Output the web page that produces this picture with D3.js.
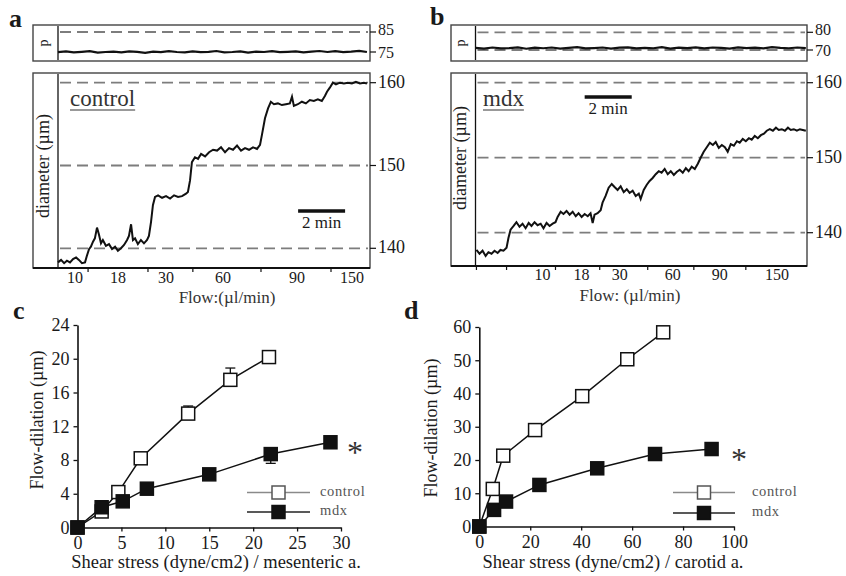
<!DOCTYPE html>
<html><head><meta charset="utf-8">
<script src="https://cdn.jsdelivr.net/npm/d3@7/dist/d3.min.js"></script>
<style>
body{margin:0;background:#fff}
text{font-family:"Liberation Serif","Times New Roman",serif;fill:#1a1a1a}
</style>
</head><body>
<svg id="chart" width="846" height="576"></svg>
<script>
// ---------------- DATA ----------------
// Panels a / b : flow steps (µl/min)
const flowLabels = ["10","18","30","60","90","150"];
const aFlowLabelTimes = [0.72,2.55,4.6,7.02,10.17,12.51];   // min
const aFlowTickTimes  = [1.28,3.83,5.74,8.64,11.62];
const bFlowLabelTimes = [2.85,4.51,6.13,8.38,10.38,12.81];
const bFlowTickTimes  = [0.04,1.32,3.40,5.28,7.32,9.28,11.49];

// panel a pressure trace (p)
const aPressTicks = [85,75];
const aPressRef = [85];
const aPressTime = [0,0.34,0.67,1.01,1.35,1.69,2.02,2.36,2.7,3.03,3.37,3.71,4.05,4.38,4.72,5.06,5.4,5.73,6.07,6.41,6.74,7.08,7.42,7.76,8.09,8.43,8.77,9.11,9.44,9.78,10.12,10.45,10.79,11.13,11.47,11.8,12.14,12.48,12.82,13.15];
const aPressValue = [74.9,75.3,74.8,75.1,75.4,74.7,75.0,75.2,74.8,75.3,75.1,74.6,75.2,74.9,75.4,75.0,74.8,75.3,74.9,75.1,75.5,74.8,75.0,75.3,74.7,75.2,75.0,75.4,74.9,75.1,75.3,74.8,75.2,75.5,75.0,75.4,74.9,75.2,75.6,75.0];

// panel a diameter trace (µm)
const aDiamTicks = [160,150,140];
const aDiamTime = [0,0.13,0.26,0.38,0.51,0.64,0.77,0.89,1.02,1.15,1.23,1.32,1.40,1.49,1.57,1.66,1.74,1.83,1.91,2.04,2.17,2.30,2.43,2.55,2.68,2.81,2.94,3.02,3.11,3.19,3.28,3.40,3.53,3.66,3.79,3.87,3.96,4.04,4.13,4.26,4.43,4.60,4.77,4.94,5.11,5.28,5.45,5.53,5.62,5.70,5.83,5.96,6.09,6.26,6.43,6.60,6.77,6.94,7.11,7.28,7.45,7.62,7.79,7.96,8.13,8.30,8.47,8.60,8.68,8.81,8.94,9.06,9.19,9.36,9.53,9.70,9.87,9.96,10.04,10.21,10.38,10.55,10.72,10.89,11.06,11.23,11.36,11.45,11.57,11.70,11.83,12.00,12.17,12.34,12.51,12.68,12.85,13.02,13.15];
const aDiamValue = [138.3,138.6,138.2,138.5,138.3,138.7,138.9,138.6,138.2,138.3,139.1,139.9,140.2,140.8,141.2,142.5,141.7,140.6,141.0,140.3,140.5,139.9,140.2,139.7,140.0,140.4,141.0,141.5,142.9,141.0,141.2,140.5,141.0,140.6,141.0,141.5,143.2,145.2,146.2,146.4,146.1,146.3,146.0,146.4,146.2,146.3,146.6,146.8,148.2,150.4,151.0,150.8,151.4,151.1,151.6,151.9,151.8,152.2,151.6,152.1,151.9,152.4,151.8,152.1,151.9,152.2,152.0,152.5,153.7,155.7,156.9,157.7,157.4,157.5,157.3,157.4,157.5,158.3,157.2,157.4,157.7,157.5,157.9,157.8,158.0,157.8,158.4,158.9,159.4,160.0,159.8,160.0,159.9,160.0,159.9,160.1,159.9,160.0,159.9];

// panel b pressure trace (p)
const bPressTicks = [80,70];
const bPressRef = [80,70];
const bPressTime = [0,0.36,0.72,1.08,1.44,1.8,2.16,2.52,2.88,3.24,3.6,3.96,4.32,4.68,5.04,5.4,5.76,6.12,6.48,6.84,7.2,7.56,7.92,8.28,8.64,9.0,9.36,9.72,10.08,10.44,10.8,11.16,11.52,11.88,12.24,12.6,12.96,13.32,13.68,14.04];
const bPressValue = [71.2,70.8,71.4,70.9,71.1,71.5,70.7,71.3,71.0,71.4,70.8,71.2,71.6,70.9,71.1,71.4,70.8,71.3,71.5,70.9,71.2,71.0,71.6,70.8,71.3,71.1,71.5,70.9,71.4,71.2,70.8,71.5,71.1,71.3,70.9,71.6,71.2,71.0,71.4,71.1];

// panel b diameter trace (µm)
const bDiamTicks = [160,150,140];
const bDiamTime = [0.04,0.17,0.30,0.43,0.55,0.68,0.81,0.94,1.06,1.19,1.32,1.40,1.49,1.62,1.74,1.87,2.00,2.13,2.26,2.38,2.51,2.64,2.77,2.89,3.02,3.15,3.28,3.40,3.49,3.62,3.74,3.87,4.00,4.13,4.26,4.38,4.51,4.64,4.77,4.89,4.98,5.06,5.19,5.32,5.40,5.53,5.66,5.79,5.91,6.04,6.17,6.30,6.43,6.55,6.68,6.81,6.94,7.02,7.15,7.28,7.40,7.53,7.66,7.79,7.91,8.04,8.17,8.30,8.43,8.55,8.68,8.81,8.94,9.06,9.19,9.32,9.45,9.57,9.70,9.83,9.96,10.09,10.21,10.34,10.47,10.60,10.72,10.85,10.98,11.11,11.23,11.36,11.49,11.62,11.74,11.87,12.00,12.13,12.26,12.38,12.51,12.64,12.77,12.89,13.02,13.15,13.28,13.40,13.53,13.66,13.79,13.91,14.04];
const bDiamValue = [137.7,137.2,137.6,136.9,137.4,137.2,137.6,137.3,137.7,137.6,138.0,139.3,140.4,140.9,141.4,140.8,141.2,140.6,141.3,140.9,141.4,141.0,141.2,140.6,141.3,140.9,141.2,141.4,142.1,142.8,142.5,142.9,142.4,142.8,142.2,142.6,142.1,142.5,142.2,142.6,141.3,142.4,142.6,143.0,144.0,144.9,146.0,146.5,146.1,145.7,146.2,145.4,145.8,145.3,145.6,144.9,145.2,144.5,145.7,146.4,146.9,147.3,147.8,148.2,148.0,148.5,147.8,148.2,147.7,148.1,148.4,148.0,148.6,148.2,148.8,148.5,149.2,150.0,150.8,151.4,152.0,151.7,152.1,151.3,151.7,151.4,150.8,151.8,151.6,152.2,152.0,152.5,152.2,152.6,152.4,152.9,152.6,153.0,153.2,153.6,153.8,153.6,154.0,153.7,153.8,153.6,154.0,153.7,153.8,153.6,153.8,153.7,153.6];

// Panel c : mesenteric artery
const cXTicks = [0,5,10,15,20,25,30];
const cYTicks = [0,4,8,12,16,20,24];
const cControlShear = [0,2.75,4.65,7.2,12.6,17.4,21.8];
const cControlDil   = [0,1.9,4.2,8.2,13.5,17.5,20.2];
const cControlErr   = [0,0,0,0,0.9,1.4,0.5];
const cMdxShear = [0,2.75,5.15,7.9,15.0,22.0,28.8];
const cMdxDil   = [0,2.4,3.1,4.6,6.3,8.7,10.1];
const cMdxErr   = [0,0,0,0,0,-1.1,0];

// Panel d : carotid artery
const dXTicks = [0,20,40,60,80,100];
const dYTicks = [0,10,20,30,40,50,60];
const dControlShear = [0,5.3,9.4,21.9,40.4,58.1,72.2];
const dControlDil   = [0,11.3,21.3,29.0,39.2,50.3,58.4];
const dMdxShear = [0,5.8,10.5,23.6,46.3,69.0,91.2];
const dMdxDil   = [0,5.0,7.5,12.5,17.5,21.8,23.3];

const seriesNames = ["control","mdx"];

// ---------------- DRAWING ----------------
const svg = d3.select("#chart");
const INK = "#111";
const REF = "#7d7d7d";

function label(x, y, s, size, opts = {}) {
  const t = svg.append("text").attr("x", x).attr("y", y).text(s)
    .style("font-size", size + "px");
  if (opts.anchor) t.attr("text-anchor", opts.anchor);
  if (opts.bold) t.style("font-weight", "bold");
  if (opts.rotate) t.attr("transform", `rotate(-90,${x},${y})`);
  if (opts.mid) t.attr("dominant-baseline", "middle");
  if (opts.fill) t.style("fill", opts.fill);
  if (opts.ls) t.style("letter-spacing", opts.ls + "px");
  return t;
}

function drawTracePanel(cfg) {
  const x = d3.scaleLinear().domain(cfg.tDomain).range([cfg.innerX, cfg.right]);
  const yp = d3.scaleLinear().domain(cfg.pDomain).range(cfg.pRange);
  const yd = d3.scaleLinear().domain(cfg.dDomain).range(cfg.dRange);
  const g = svg.append("g");

  // frames
  g.append("rect").attr("x", cfg.left).attr("y", cfg.pTop)
    .attr("width", cfg.right - cfg.left).attr("height", cfg.pBottom - cfg.pTop)
    .attr("fill", "none").attr("stroke", "#444").attr("stroke-width", 1.4);
  g.append("rect").attr("x", cfg.left).attr("y", cfg.mTop)
    .attr("width", cfg.right - cfg.left).attr("height", cfg.mBottom - cfg.mTop)
    .attr("fill", "none").attr("stroke", "#444").attr("stroke-width", 1.4);
  g.append("line").attr("x1", cfg.innerX).attr("x2", cfg.innerX)
    .attr("y1", cfg.pTop + 1).attr("y2", cfg.pBottom - 1).attr("stroke", INK).attr("stroke-width", 1.3);
  g.append("line").attr("x1", cfg.innerX).attr("x2", cfg.innerX)
    .attr("y1", cfg.mTop + 1).attr("y2", cfg.mBottom).attr("stroke", INK).attr("stroke-width", 1.3);
  g.append("line").attr("x1", cfg.left).attr("x2", cfg.right)
    .attr("y1", cfg.mBottom).attr("y2", cfg.mBottom).attr("stroke", INK).attr("stroke-width", 2);

  // reference dashed lines
  cfg.pRef.forEach(v => g.append("line").attr("x1", cfg.innerX + 2).attr("x2", cfg.right - 2)
    .attr("y1", yp(v)).attr("y2", yp(v)).attr("stroke", REF).attr("stroke-width", 1.8)
    .attr("stroke-dasharray", "11,6"));
  cfg.dTicks.forEach(v => g.append("line").attr("x1", cfg.innerX + 2).attr("x2", cfg.right - 2)
    .attr("y1", yd(v)).attr("y2", yd(v)).attr("stroke", REF).attr("stroke-width", 1.8)
    .attr("stroke-dasharray", "11,6"));

  // right ticks + labels
  const rt = (v, yy, size, dy) => {
    g.append("line").attr("x1", cfg.right).attr("x2", cfg.right + 6)
      .attr("y1", yy).attr("y2", yy).attr("stroke", INK).attr("stroke-width", 1.2);
    label(cfg.right + 8, yy + dy, String(v), size, {mid: true});
  };
  cfg.pTicks.forEach((v, i) => rt(v, yp(v), 16, i === 0 ? -1 : 2));
  cfg.dTicks.forEach(v => rt(v, yd(v), 18, 1));

  // traces
  const lineP = d3.line().x(d => x(d[0])).y(d => yp(d[1]));
  const lineD = d3.line().x(d => x(d[0])).y(d => yd(d[1]));
  g.append("path").datum(d3.zip(cfg.pTime, cfg.pValue)).attr("d", lineP)
    .attr("fill", "none").attr("stroke", INK).attr("stroke-width", 2.2);
  g.append("path").datum(d3.zip(cfg.dTime, cfg.dValue)).attr("d", lineD)
    .attr("fill", "none").attr("stroke", INK).attr("stroke-width", 2);

  // flow ticks and labels
  cfg.flowTicks.forEach(t => g.append("line").attr("x1", x(t)).attr("x2", x(t))
    .attr("y1", cfg.mBottom).attr("y2", cfg.mBottom + 4).attr("stroke", INK).attr("stroke-width", 1.2));
  cfg.flowLabelTimes.forEach((t, i) => label(x(t), cfg.flowLabelY, flowLabels[i], 16, {anchor: "middle", mid: true}));
  label(cfg.flowTitleX, cfg.flowTitleY, cfg.flowTitle, 17, {anchor: "middle", mid: true, fill: "#333"});

  // left labels
  label(cfg.pLabelX, (cfg.pTop + cfg.pBottom) / 2, "p", 14, {anchor: "middle", mid: true, rotate: true});
  label(cfg.pLabelX, cfg.diamLabelY, "diameter (µm)", 18, {anchor: "middle", mid: true, rotate: true});

  // group name underlined
  const nm = label(cfg.nameX, cfg.nameY, cfg.name, 23, {fill: "#333"});
  const w = nm.node().getComputedTextLength();
  g.append("line").attr("x1", cfg.nameX).attr("x2", cfg.nameX + w)
    .attr("y1", cfg.nameY + 4).attr("y2", cfg.nameY + 4).attr("stroke", "#777").attr("stroke-width", 1.5);

  // scale bar 2 min
  g.append("line").attr("x1", x(cfg.barT)).attr("x2", x(cfg.barT + 2))
    .attr("y1", cfg.barY).attr("y2", cfg.barY).attr("stroke", INK).attr("stroke-width", 3.5);
  label((x(cfg.barT) + x(cfg.barT + 2)) / 2, cfg.barY + 17, "2 min", 17, {anchor: "middle"});
}

drawTracePanel({
  left: 33, innerX: 58, right: 370,
  pTop: 25, pBottom: 61, mTop: 73, mBottom: 268,
  tDomain: [0, 13.28],
  pDomain: [75, 85], pRange: [52, 32],
  dDomain: [140, 160], dRange: [248.3, 82.7],
  pTicks: aPressTicks, pRef: aPressRef, dTicks: aDiamTicks,
  pTime: aPressTime, pValue: aPressValue, dTime: aDiamTime, dValue: aDiamValue,
  flowTicks: aFlowTickTimes, flowLabelTimes: aFlowLabelTimes, flowLabelY: 279,
  flowTitle: "Flow:(µl/min)", flowTitleX: 227, flowTitleY: 299,
  pLabelX: 45, diamLabelY: 166,
  name: seriesNames[0], nameX: 70, nameY: 106,
  barT: 10.22, barY: 211
});

drawTracePanel({
  left: 451, innerX: 475.5, right: 807,
  pTop: 25, pBottom: 61, mTop: 73, mBottom: 266,
  tDomain: [0, 14.09],
  pDomain: [70, 80], pRange: [50, 32.3],
  dDomain: [140, 160], dRange: [232.7, 82.7],
  pTicks: bPressTicks, pRef: bPressRef, dTicks: bDiamTicks,
  pTime: bPressTime, pValue: bPressValue, dTime: bDiamTime, dValue: bDiamValue,
  flowTicks: bFlowTickTimes, flowLabelTimes: bFlowLabelTimes, flowLabelY: 276,
  flowTitle: "Flow: (µl/min)", flowTitleX: 630, flowTitleY: 297,
  pLabelX: 462, diamLabelY: 158,
  name: seriesNames[1], nameX: 483, nameY: 106,
  barT: 4.64, barY: 97
});

// panel letters
label(9, 27, "a", 26, {bold: true});
label(430, 25, "b", 26, {bold: true});
label(13, 319, "c", 26, {bold: true});
label(404, 319, "d", 26, {bold: true});

function drawXY(cfg) {
  const x = d3.scaleLinear().domain(cfg.xDomain).range(cfg.xRange);
  const y = d3.scaleLinear().domain(cfg.yDomain).range(cfg.yRange);
  const g = svg.append("g");

  const ax = g.append("g").attr("transform", `translate(0,${cfg.yRange[0]})`)
    .call(d3.axisBottom(x).tickValues(cfg.xTicks).tickSize(4).tickSizeOuter(0).tickPadding(5));
  const ay = g.append("g").attr("transform", `translate(${cfg.xRange[0]},0)`)
    .call(d3.axisLeft(y).tickValues(cfg.yTicks).tickSize(4).tickSizeOuter(0).tickPadding(4));
  [ax, ay].forEach(a => {
    a.select(".domain").attr("stroke", INK).attr("stroke-width", 1.6);
    a.selectAll(".tick line").attr("stroke", INK).attr("stroke-width", 1.3);
    a.selectAll(".tick text").style("font-size", "18px")
      .style("font-family", '"Liberation Serif","Times New Roman",serif').attr("fill", "#1a1a1a");
  });

  label(cfg.xTitleX, cfg.xTitleY, cfg.xTitle, 18.5, {anchor: "middle"});
  label(cfg.yTitleX, cfg.yTitleY, "Flow-dilation (µm)", 18, {anchor: "middle", rotate: true});

  const line = d3.line().x(d => x(d[0])).y(d => y(d[1]));
  const S = cfg.sq;
  // error bars
  cfg.series.forEach(s => {
    if (!s.err) return;
    s.x.forEach((xv, i) => {
      const e = s.err[i];
      if (!e) return;
      const y0 = y(s.y[i]), y1 = y(s.y[i] + e);
      g.append("line").attr("x1", x(xv)).attr("x2", x(xv)).attr("y1", y0).attr("y2", y1)
        .attr("stroke", INK).attr("stroke-width", 1.3);
      g.append("line").attr("x1", x(xv) - 5).attr("x2", x(xv) + 5).attr("y1", y1).attr("y2", y1)
        .attr("stroke", INK).attr("stroke-width", 1.3);
    });
  });
  cfg.series.forEach(s => {
    g.append("path").datum(d3.zip(s.x, s.y)).attr("d", line)
      .attr("fill", "none").attr("stroke", INK).attr("stroke-width", 1.5);
  });
  cfg.series.forEach(s => {
    g.selectAll(null).data(d3.zip(s.x, s.y)).enter().append("rect")
      .attr("x", d => x(d[0]) - S / 2).attr("y", d => y(d[1]) - S / 2)
      .attr("width", S).attr("height", S)
      .attr("fill", s.filled ? INK : "#fff").attr("stroke", INK).attr("stroke-width", 1.5);
  });

  // legend
  cfg.series.forEach((s, i) => {
    const ly = cfg.legY + i * cfg.legDy;
    g.append("line").attr("x1", cfg.legX1).attr("x2", cfg.legX2).attr("y1", ly).attr("y2", ly)
      .attr("stroke", s.filled ? "#222" : "#8a8a8a").attr("stroke-width", 1.6);
    g.append("rect").attr("x", (cfg.legX1 + cfg.legX2) / 2 - S / 2).attr("y", ly - S / 2)
      .attr("width", S).attr("height", S)
      .attr("fill", s.filled ? INK : "#fff").attr("stroke", s.filled ? INK : "#555").attr("stroke-width", 1.5);
    label(cfg.legTextX, ly, s.name, 14.5, {mid: true, fill: "#555", ls: 0.6});
  });

  label(cfg.starX, cfg.starY, "*", 32, {anchor: "middle", fill: "#333"});
}

drawXY({
  xDomain: [0, 30], xRange: [77.5, 341], yDomain: [0, 24], yRange: [527.5, 325],
  xTicks: cXTicks, yTicks: cYTicks, sq: 13,
  xTitle: "Shear stress (dyne/cm2) / mesenteric a.", xTitleX: 216, xTitleY: 568,
  yTitleX: 43, yTitleY: 420,
  series: [
    {name: seriesNames[0], x: cControlShear, y: cControlDil, err: cControlErr, filled: false},
    {name: seriesNames[1], x: cMdxShear, y: cMdxDil, err: cMdxErr, filled: true}
  ],
  legX1: 247, legX2: 310, legY: 492.5, legDy: 19.5, legTextX: 320,
  starX: 355, starY: 463
});

drawXY({
  xDomain: [0, 100], xRange: [479.3, 734], yDomain: [0, 60], yRange: [526.5, 327],
  xTicks: dXTicks, yTicks: dYTicks, sq: 13,
  xTitle: "Shear stress (dyne/cm2) / carotid a.", xTitleX: 613, xTitleY: 568,
  yTitleX: 437, yTitleY: 428,
  series: [
    {name: seriesNames[0], x: dControlShear, y: dControlDil, filled: false},
    {name: seriesNames[1], x: dMdxShear, y: dMdxDil, filled: true}
  ],
  legX1: 673, legX2: 735, legY: 492.5, legDy: 20.5, legTextX: 752,
  starX: 739, starY: 470
});
</script>
</body></html>
